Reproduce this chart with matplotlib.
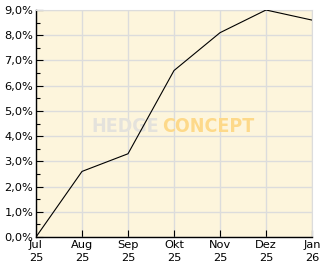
import matplotlib
matplotlib.use("Agg")
import matplotlib.pyplot as plt
from matplotlib.ticker import MultipleLocator, FuncFormatter

# Monatswerte der Wertentwicklung (in %)
months = ["Jul\n25", "Aug\n25", "Sep\n25", "Okt\n25", "Nov\n25", "Dez\n25", "Jan\n26"]
values = [0.0, 2.6, 3.3, 6.6, 8.1, 9.0, 8.6]

fig = plt.figure(figsize=(3.32, 2.69), dpi=100)
ax = fig.add_axes([36 / 332, 32 / 269, 276 / 332, 227 / 269])
ax.set_facecolor("#fdf5dc")

x = list(range(len(months)))
ax.plot(x, values, color="black", lw=0.8, zorder=3)

ax.set_xlim(0, len(months) - 1)
ax.set_ylim(0, 9)
ax.set_xticks(x)
ax.set_xticklabels(months, fontsize=8.2, linespacing=1.4)
ax.yaxis.set_major_locator(MultipleLocator(1))
ax.yaxis.set_minor_locator(MultipleLocator(0.5))
ax.yaxis.set_major_formatter(FuncFormatter(lambda v, p: f"{v:.1f}%".replace(".", ",")))
ax.tick_params(axis="y", labelsize=8.2)

ax.tick_params(which="both", direction="in", color="black")
ax.tick_params(which="major", length=5, width=0.8)
ax.tick_params(which="minor", length=3, width=0.8)
ax.tick_params(axis="x", pad=2)
ax.tick_params(axis="y", pad=2)

ax.grid(True, which="major", color="#dcdcdc", lw=1, zorder=0)
ax.set_axisbelow(True)
for s in ["top", "right"]:
    ax.spines[s].set_color("#dcdcdc")
for s in ["left", "bottom"]:
    ax.spines[s].set_color("black")
    ax.spines[s].set_linewidth(1)

# Wasserzeichen
ax.text(0.445, 0.487, "HEDGE", transform=ax.transAxes, ha="right", va="center",
        fontsize=14, fontweight="bold", fontstretch="condensed", color="#e4e2dc", zorder=1)
ax.text(0.458, 0.487, "CONCEPT", transform=ax.transAxes, ha="left", va="center",
        fontsize=14, fontweight="bold", fontstretch="condensed", color="#fdd98a", zorder=1)

fig.savefig("out.png", dpi=100)
